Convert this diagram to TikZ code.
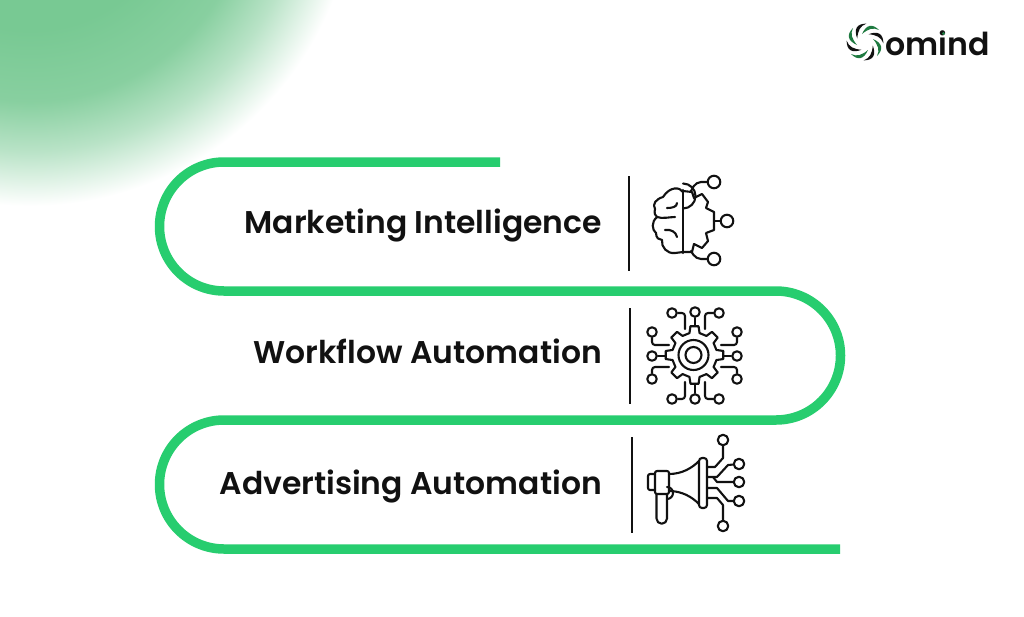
\documentclass[tikz,border=0pt]{standalone}
\usepackage{fontspec}
\setmainfont{Poppins}[BoldFont={Poppins SemiBold}]
\definecolor{ribbon}{HTML}{27CD6F}
\definecolor{blobgreen}{HTML}{78C993}
\definecolor{logogreen}{HTML}{1E7A40}
\definecolor{ink}{HTML}{111111}
\tikzset{
  ribbonline/.style={draw=ribbon, line width=9.5pt, line cap=butt},
  rowlabel/.style={font=\fontsize{31.4}{34}\selectfont\bfseries, text=ink, anchor=base east, inner sep=0pt},
  sepline/.style={draw=ink, line width=2pt},
  iconline/.style={draw=ink, line width=2.1pt, line cap=round, line join=round},
  dot/.style={circle, draw=ink, line width=2.1pt, fill=white, inner sep=0pt},
}
\pgfdeclareradialshading{blobshade}{\pgfpoint{0bp}{0bp}}{
  color(0bp)=(blobgreen); color(11.5bp)=(blobgreen); color(17bp)=(blobgreen!88!white);
  color(20.8bp)=(blobgreen!52!white); color(25bp)=(white); color(50bp)=(white)}
\begin{document}
\begin{tikzpicture}[x=1pt, y=-1pt]
  \useasboundingbox (0,0) rectangle (1024,616);
  % backdrop
  \begin{scope}
    \clip (0,0) rectangle (1024,616);
    \fill[white] (0,0) rectangle (1024,616);
    \shade[shading=blobshade] (30,-120) circle (326pt);
  \end{scope}
  % ribbon
  \draw[ribbonline] (500,162) -- (224,162) arc[start angle=90, end angle=270, radius=64.5pt]
    -- (776,291) arc[start angle=90, end angle=-90, radius=64.5pt]
    -- (224,420) arc[start angle=90, end angle=270, radius=64.5pt] -- (840,549);
  % labels
  \node[rowlabel] (marketing) at (602,233) {Marketing Intelligence};
  \node[rowlabel] (workflow) at (602,363) {Workflow Automation};
  \node[rowlabel] (advertising) at (602,494) {Advertising Automation};
  % separators
  \draw[sepline] (629,176) -- (629,271);
  \draw[sepline] (630,308) -- (630,404);
  \draw[sepline] (632,437) -- (632,533);
  % brain icon
  \begin{scope}[iconline]
    \node[dot, minimum size=12.5pt] (brainA) at (714,182) {};
    \node[dot, minimum size=12.5pt] (brainB) at (727,221) {};
    \node[dot, minimum size=12.5pt] (brainC) at (714,259) {};
    \draw (683,190) -- (683,253);
    \draw (683,192) .. controls (680,187) and (670,186) .. (663,197) .. controls (656,199) and (652,204) .. (655,209)
      .. controls (654,213) and (655,216) .. (657,217) .. controls (651,222) and (652,230) .. (656,233)
      .. controls (656,238) and (659,240) .. (662,240) .. controls (661,247) and (667,254) .. (675,253) -- (683,252);
    \draw (667,208) .. controls (672,208) and (677,207) .. (677,203);
    \draw (665,230) .. controls (671,229) and (676,232) .. (677,237);
    \draw (657,217) .. controls (662,219) and (670,217) .. (675,217);
    \draw (683,208.5) arc[start angle=-90, end angle=90, radius=12.5pt];
    \draw (683,191) -- (692,192) -- (694,198) -- (702,194) -- (708,202) -- (706,208) -- (714,212) -- (714,230)
      -- (706,233) -- (708,241) -- (702,248) -- (694,244) -- (692,252) -- (683,252);
    \draw[rounded corners=5pt] (691,191) -- (696,182) -- (brainA);
    \draw (714,221) -- (brainB);
    \draw[rounded corners=5pt] (691,251) -- (696,259) -- (brainC);
  \end{scope}
  % gear icon
  \begin{scope}[iconline]
    \draw (693.5,355) circle (15pt);
    \draw (693.5,355) circle (8pt);
    \foreach \a in {0,45,...,315}{
      \draw[shift={(694.5,355)}] (\a-8:29) -- (\a+8:29) -- (\a+13:22.5) -- (\a+32:22.5) -- (\a+37:29);
    }
    \node[dot, minimum size=9.5pt] (gearA) at (672,313) {};
    \node[dot, minimum size=9.5pt] (gearB) at (695,312) {};
    \node[dot, minimum size=9.5pt] (gearC) at (719,313) {};
    \node[dot, minimum size=9.5pt] (gearD) at (652,332) {};
    \node[dot, minimum size=9.5pt] (gearE) at (652,356) {};
    \node[dot, minimum size=9.5pt] (gearF) at (652,379) {};
    \node[dot, minimum size=9.5pt] (gearG) at (737,332) {};
    \node[dot, minimum size=9.5pt] (gearH) at (737,356) {};
    \node[dot, minimum size=9.5pt] (gearI) at (737,379) {};
    \node[dot, minimum size=9.5pt] (gearJ) at (672,399) {};
    \node[dot, minimum size=9.5pt] (gearK) at (695,399) {};
    \node[dot, minimum size=9.5pt] (gearL) at (719,399) {};
    \draw[rounded corners=3pt] (gearA) -- (685,313) -- (685,329);
    \draw (gearB) -- (695,326);
    \draw[rounded corners=3pt] (gearC) -- (705,313) -- (705,329);
    \draw[rounded corners=3pt] (gearD) -- (652,345) -- (669,345);
    \draw (gearE) -- (665,356);
    \draw[rounded corners=3pt] (gearF) -- (652,367) -- (669,367);
    \draw[rounded corners=3pt] (gearG) -- (737,345) -- (721,345);
    \draw (gearH) -- (724,356);
    \draw[rounded corners=3pt] (gearI) -- (737,367) -- (721,367);
    \draw[rounded corners=3pt] (gearJ) -- (685,399) -- (685,382);
    \draw (gearK) -- (695,384);
    \draw[rounded corners=3pt] (gearL) -- (705,399) -- (705,382);
  \end{scope}
  % megaphone icon
  \begin{scope}[iconline]
    \node[dot, minimum size=10.5pt] (hornA) at (723,440) {};
    \node[dot, minimum size=10.5pt] (hornB) at (739,464) {};
    \node[dot, minimum size=10.5pt] (hornC) at (739,482) {};
    \node[dot, minimum size=10.5pt] (hornD) at (739,501) {};
    \node[dot, minimum size=10.5pt] (hornE) at (723,526) {};
    \draw[rounded corners=3pt] (699,458) rectangle (707,508);
    \draw[rounded corners=2pt] (655,471) rectangle (669,494);
    \draw[rounded corners=2pt] (655,474) -- (648,474) -- (648,490) -- (655,490);
    \draw (669,474) .. controls (682,474) and (692,468) .. (699,461);
    \draw (669,491) .. controls (682,491) and (692,497) .. (699,504);
    \draw (656.5,494) -- (656.5,518.5) arc[start angle=180, end angle=360, radius=5.25pt] -- (667,494);
    \draw (667,499) arc[start angle=-90, end angle=90, radius=6pt];
    \draw (707,467) -- (715,467) -- (723,458) -- (hornA);
    \draw (707,477) -- (717,477) -- (728,465) -- (hornB);
    \draw (713,477) -- (717,482) -- (hornC);
    \draw (707,488) -- (717,488) -- (728,501) -- (hornD);
    \draw (707,498) -- (717,498) -- (723,505) -- (hornE);
  \end{scope}
  % logo
  \node[font=\fontsize{31.6}{34}\selectfont\bfseries, text=ink, anchor=base west, inner sep=0pt] (logotext) at (885.5,55) {omind};
  \fill[logogreen] (943.5,33.5) circle (1.6pt);
  \foreach \a/\c in {0/logogreen,45/ink,90/logogreen,135/ink,180/logogreen,225/ink,270/logogreen,315/ink}{
    \fill[\c, shift={(865,42)}, rotate=\a] (-3,-8) .. controls (1,-17) and (7,-19) .. (14,-12)
      .. controls (8,-15) and (3,-13) .. (-3,-8) -- cycle;
  }
\end{tikzpicture}
\end{document}
